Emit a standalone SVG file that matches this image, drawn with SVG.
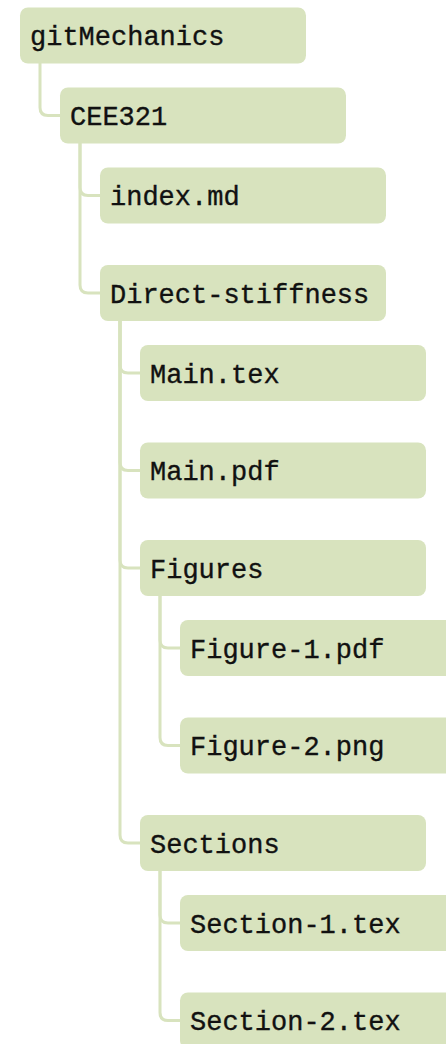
<svg xmlns="http://www.w3.org/2000/svg" width="446" height="1044" viewBox="0 0 446 1044">
<style>
.n{fill:#d8e3be}
.t{font-family:"Liberation Mono","Courier New",monospace;font-size:27px;fill:#111;stroke:#111;stroke-width:0.35}
.c{fill:none;stroke:#d8e3be;stroke-width:3}
</style>
<rect width="446" height="1044" fill="#fff"/>
<g id="connectors">
<path class="c" d="M40 63 V107.5 Q40 115.5 48 115.5 H62"/>
<path class="c" d="M80 143 V187.5 Q80 195.5 88 195.5 H102"/>
<path class="c" d="M80 143 V285 Q80 293 88 293 H102"/>
<path class="c" d="M120 321 V365 Q120 373 128 373 H142"/>
<path class="c" d="M120 321 V462.5 Q120 470.5 128 470.5 H142"/>
<path class="c" d="M120 321 V560 Q120 568 128 568 H142"/>
<path class="c" d="M120 321 V835 Q120 843 128 843 H142"/>
<path class="c" d="M160 596 V640 Q160 648 168 648 H182"/>
<path class="c" d="M160 596 V737.5 Q160 745.5 168 745.5 H182"/>
<path class="c" d="M160 871 V915 Q160 923 168 923 H182"/>
<path class="c" d="M160 871 V1012.5 Q160 1020.5 168 1020.5 H182"/>
</g>
<g id="gitMechanics"><rect class="n" x="20" y="7.5" width="286" height="56" rx="8"/><text class="t" x="30" y="45">gitMechanics</text></g>
<g id="CEE321"><rect class="n" x="60" y="87.5" width="286" height="56" rx="8"/><text class="t" x="70" y="125">CEE321</text></g>
<g id="index-md"><rect class="n" x="100" y="167.5" width="286" height="56" rx="8"/><text class="t" x="110" y="205">index.md</text></g>
<g id="Direct-stiffness"><rect class="n" x="100" y="265" width="286" height="56" rx="8"/><text class="t" x="110" y="302.5">Direct-stiffness</text></g>
<g id="Main-tex"><rect class="n" x="140" y="345" width="286" height="56" rx="8"/><text class="t" x="150" y="382.5">Main.tex</text></g>
<g id="Main-pdf"><rect class="n" x="140" y="442.5" width="286" height="56" rx="8"/><text class="t" x="150" y="480">Main.pdf</text></g>
<g id="Figures"><rect class="n" x="140" y="540" width="286" height="56" rx="8"/><text class="t" x="150" y="577.5">Figures</text></g>
<g id="Figure-1-pdf"><rect class="n" x="180" y="620" width="286" height="56" rx="8"/><text class="t" x="190" y="657.5">Figure-1.pdf</text></g>
<g id="Figure-2-png"><rect class="n" x="180" y="717.5" width="286" height="56" rx="8"/><text class="t" x="190" y="755">Figure-2.png</text></g>
<g id="Sections"><rect class="n" x="140" y="815" width="286" height="56" rx="8"/><text class="t" x="150" y="852.5">Sections</text></g>
<g id="Section-1-tex"><rect class="n" x="180" y="895" width="286" height="56" rx="8"/><text class="t" x="190" y="932.5">Section-1.tex</text></g>
<g id="Section-2-tex"><rect class="n" x="180" y="992.5" width="286" height="56" rx="8"/><text class="t" x="190" y="1030">Section-2.tex</text></g>
</svg>
